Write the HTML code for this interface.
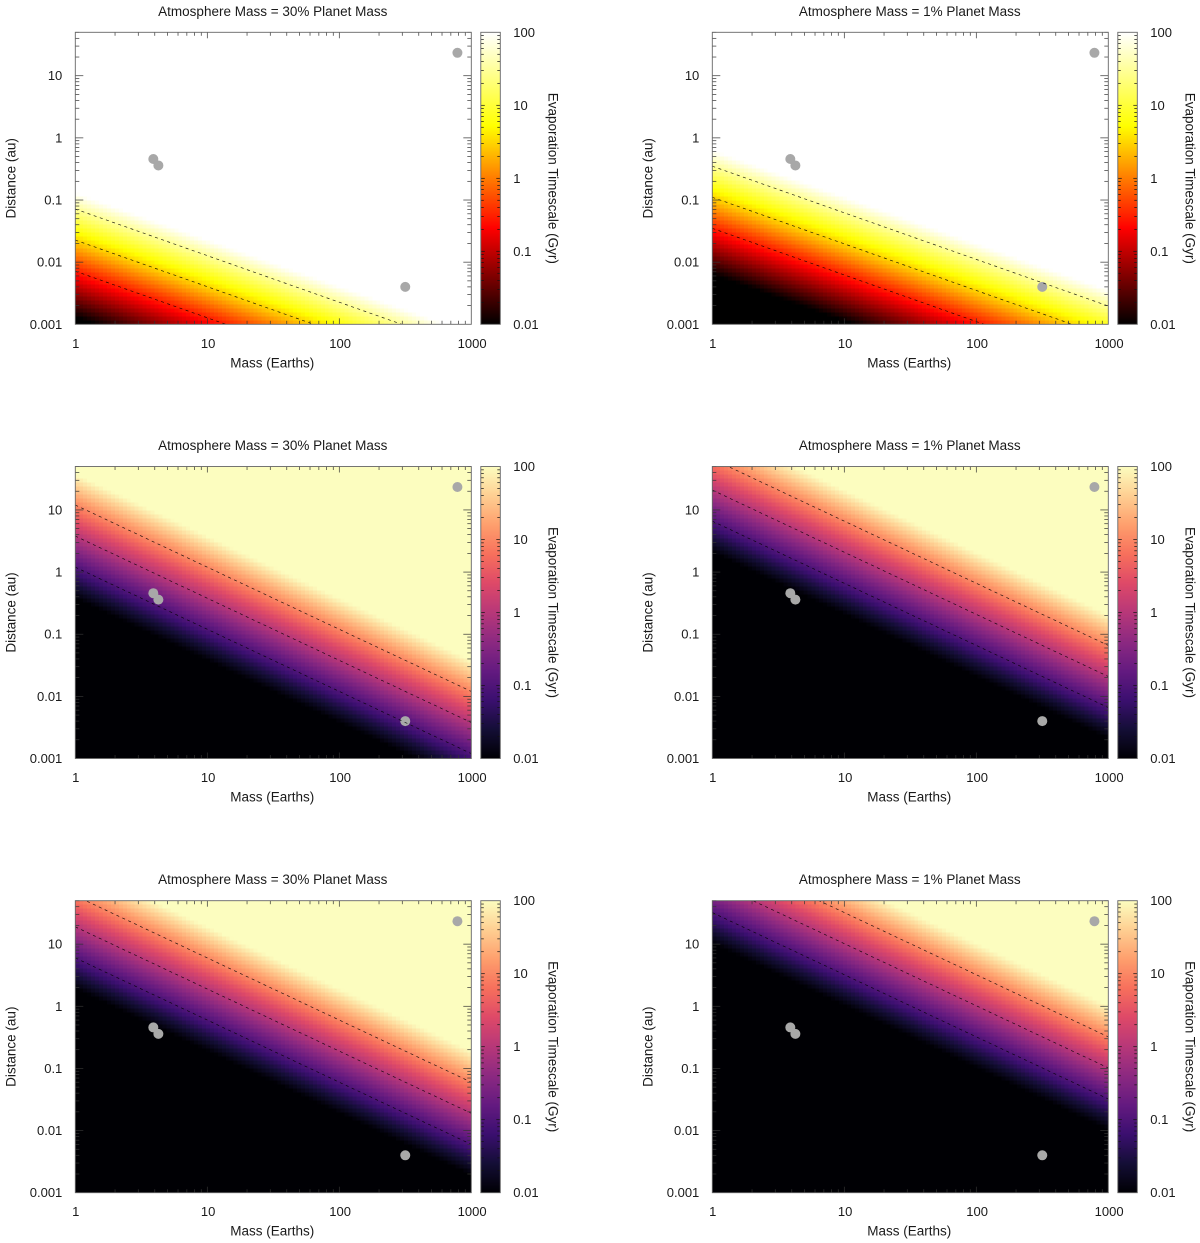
<!DOCTYPE html>
<html lang="en">
<head>
<meta charset="utf-8">
<title>Evaporation Timescale Maps</title>
<style>
html,body{margin:0;padding:0;background:#fff;}
svg{display:block;}
text{font-family:"Liberation Sans",sans-serif;font-size:13px;fill:#1a1a1a;}
text.axis-title{font-size:13.5px;}
</style>
</head>
<body>
<svg id="figure" xmlns="http://www.w3.org/2000/svg" width="1200" height="1243" viewBox="0 0 1200 1243"></svg>
<script>
// ---- chart data ----
const panelTitles = [
  "Atmosphere Mass = 30% Planet Mass", "Atmosphere Mass = 1% Planet Mass",
  "Atmosphere Mass = 30% Planet Mass", "Atmosphere Mass = 1% Planet Mass",
  "Atmosphere Mass = 30% Planet Mass", "Atmosphere Mass = 1% Planet Mass"
];
// distance (au) where each panel's longest-timescale contour crosses Mass = 1 Earth
const topContourDistanceAtOneEarth = [0.0716, 0.35, 12, 66, 60, 322];
// power-law exponents of the timescale against mass, for each panel
const massExponents = [1.5, 1.5, 2, 2, 2, 2];
const distanceExponent = 2;
const palettes = ["hot", "hot", "magma", "magma", "magma", "magma"];
const hotContourLevels = [30, 3, 0.3];
const magmaContourLevels = [10, 1, 0.1];
const planetMasses = [3.9, 4.26, 785, 316];
const planetDistances = [0.457, 0.36, 23.4, 0.004];
const massTicks = [1, 10, 100, 1000];
const massTickLabels = ["1", "10", "100", "1000"];
const distanceTicks = [0.001, 0.01, 0.1, 1, 10];
const distanceTickLabels = ["0.001", "0.01", "0.1", "1", "10"];
const colorTicks = [0.01, 0.1, 1, 10, 100];
const colorTickLabels = ["0.01", "0.1", "1", "10", "100"];
const massDomain = [1, 1000];
const distanceDomain = [0.001, 50];
const colorDomain = [0.01, 100];
const hotStops = [[0, 0, 0, 0], [0.33, 255, 0, 0], [0.68, 255, 255, 0], [1, 255, 255, 255]];
const magmaStops = [
  [0, 0, 0, 4], [0.1, 20, 14, 54], [0.2, 59, 15, 112], [0.3, 100, 26, 128],
  [0.4, 140, 41, 129], [0.5, 183, 55, 121], [0.6, 222, 73, 104], [0.7, 247, 112, 92],
  [0.8, 254, 159, 109], [0.9, 254, 207, 146], [1, 252, 253, 191]
];

// ---- layout ----
const svg = document.getElementById("figure");
const NS = "http://www.w3.org/2000/svg";
const plotW = 396, plotH = 292, barGap = 9.5, barW = 19.5;
const cellsX = 100, cellsY = 73;
const log10 = Math.log10;
function originX(i) { return 75.3 + 637 * (i % 2); }
function originY(i) { return 32.3 + 434.2 * Math.floor(i / 2); }
function scaleMass(i, m) { return originX(i) + plotW * (log10(m) - log10(massDomain[0])) / (log10(massDomain[1]) - log10(massDomain[0])); }
function scaleDistance(i, d) { return originY(i) + plotH - plotH * (log10(d) - log10(distanceDomain[0])) / (log10(distanceDomain[1]) - log10(distanceDomain[0])); }
function scaleColor(i, v) { return originY(i) + plotH - plotH * (log10(v) - log10(colorDomain[0])) / (log10(colorDomain[1]) - log10(colorDomain[0])); }
function colorFraction(t) {
  const f = (log10(t) - log10(colorDomain[0])) / (log10(colorDomain[1]) - log10(colorDomain[0]));
  return Math.max(0, Math.min(1, f));
}
function paletteColor(name, f) {
  const stops = name === "hot" ? hotStops : magmaStops;
  for (let k = 1; k < stops.length; k++) {
    if (f <= stops[k][0]) {
      const a = stops[k - 1], b = stops[k], u = (f - a[0]) / (b[0] - a[0]);
      return "rgb(" + [1, 2, 3].map(c => Math.round(a[c] + (b[c] - a[c]) * u)).join(",") + ")";
    }
  }
  return "rgb(" + stops[stops.length - 1].slice(1).join(",") + ")";
}
function levelsFor(i) { return palettes[i] === "hot" ? hotContourLevels : magmaContourLevels; }
function timescale(i, m, d) {
  return levelsFor(i)[0] * Math.pow(d / topContourDistanceAtOneEarth[i], distanceExponent) * Math.pow(m, massExponents[i]);
}
function contourDistance(i, level, m) {
  return topContourDistanceAtOneEarth[i] * Math.pow(level / levelsFor(i)[0] / Math.pow(m, massExponents[i]), 1 / distanceExponent);
}
function make(tag, attrs, parent, content) {
  const n = document.createElementNS(NS, tag);
  for (const key in attrs) n.setAttribute(key, attrs[key]);
  if (content !== undefined) n.textContent = content;
  parent.appendChild(n);
  return n;
}
function tickLine(parent, x1, y1, x2, y2, color) {
  const t = make("line", { x1: x1, y1: y1, x2: x2, y2: y2, stroke: color, "stroke-width": 0.7 }, parent);
  
  
}

const defs = make("defs", {}, svg);

panelTitles.forEach(function (title, i) {
  const x0 = originX(i), y0 = originY(i), x1 = x0 + plotW, y1 = y0 + plotH;
  const panel = make("g", {}, svg);
  
  

  const clip = make("clipPath", { id: "clip-" + i }, defs);
  make("rect", { x: x0, y: y0, width: plotW, height: plotH }, clip);

  // heatmap cells
  const heat = make("g", { "shape-rendering": "crispEdges" }, panel);
  
  
  const lm0 = log10(massDomain[0]), lm1 = log10(massDomain[1]);
  const ld0 = log10(distanceDomain[0]), ld1 = log10(distanceDomain[1]);
  for (let a = 0; a < cellsX; a++) {
    for (let b = 0; b < cellsY; b++) {
      const m = Math.pow(10, lm0 + (lm1 - lm0) * (a + 0.5) / cellsX);
      const d = Math.pow(10, ld0 + (ld1 - ld0) * (b + 0.5) / cellsY);
      const mLo = Math.pow(10, lm0 + (lm1 - lm0) * a / cellsX);
      const mHi = Math.pow(10, lm0 + (lm1 - lm0) * (a + 1) / cellsX);
      const dLo = Math.pow(10, ld0 + (ld1 - ld0) * b / cellsY);
      const dHi = Math.pow(10, ld0 + (ld1 - ld0) * (b + 1) / cellsY);
      const cell = make("rect", {
        x: scaleMass(i, mLo), y: scaleDistance(i, dHi),
        width: scaleMass(i, mHi) - scaleMass(i, mLo),
        height: scaleDistance(i, dLo) - scaleDistance(i, dHi),
        fill: paletteColor(palettes[i], colorFraction(timescale(i, m, d)))
      }, heat);
      
      
    }
  }

  // planets
  planetMasses.forEach(function (m, k) {
    const p = make("circle", { cx: scaleMass(i, m), cy: scaleDistance(i, planetDistances[k]), r: 5, fill: "#a8a8a8" }, panel);
    
    
  });

  // contours
  levelsFor(i).forEach(function (level) {
    const c = make("line", {
      x1: scaleMass(i, massDomain[0]), y1: scaleDistance(i, contourDistance(i, level, massDomain[0])),
      x2: scaleMass(i, massDomain[1]), y2: scaleDistance(i, contourDistance(i, level, massDomain[1])),
      stroke: "#000", "stroke-width": 0.7, "stroke-opacity": 0.85, "stroke-dasharray": "3 3.5", "clip-path": "url(#clip-" + i + ")"
    }, panel);
    
    
  });

  // ticks on plot
  const ticks = make("g", {}, panel);
  
  
  for (let e = 0; e < 3; e++) {
    for (let k = 1; k < 10; k++) {
      const x = scaleMass(i, Math.pow(10, e) * k);
      const len = k === 1 ? 6 : 3.5;
      if (k === 1 && e === 0) continue;
      tickLine(ticks, x, y0, x, y0 + len, "#333");
      tickLine(ticks, x, y1, x, y1 - len, "#333");
    }
  }
  for (let e = -3; e < 2; e++) {
    for (let k = 1; k < 10; k++) {
      const v = Math.pow(10, e) * k;
      if (v > distanceDomain[1] || (e === -3 && k === 1)) continue;
      const y = scaleDistance(i, v);
      const len = k === 1 ? 8 : 4;
      tickLine(ticks, x0, y, x0 + len, y, "#333");
      tickLine(ticks, x1, y, x1 - len, y, "#333");
    }
  }

  // frame
  const frame = make("rect", { x: x0, y: y0, width: plotW, height: plotH, fill: "none", stroke: "#666", "stroke-width": 0.9 }, panel);
  
  

  // axis labels
  massTicks.forEach(function (m, k) {
    const t = make("text", { x: scaleMass(i, m) + (k === 0 ? 0.5 : 0.8), y: y1 + 23.5, "text-anchor": "middle" }, panel, massTickLabels[k]);
    
    
  });
  distanceTicks.forEach(function (d, k) {
    const t = make("text", { x: x0 - 13, y: scaleDistance(i, d) + 4.5, "text-anchor": "end" }, panel, distanceTickLabels[k]);
    
    
  });
  const titleText = make("text", { class: "axis-title", x: x0 + 197.5, y: y0 - 16.5, "text-anchor": "middle" }, panel, title);
  
  
  const xTitle = make("text", { class: "axis-title", x: x0 + 197, y: y1 + 43, "text-anchor": "middle" }, panel, "Mass (Earths)");
  
  
  const yTitle = make("text", { class: "axis-title", transform: "translate(" + (x0 - 60) + "," + (y0 + 146) + ") rotate(-90)", "text-anchor": "middle" }, panel, "Distance (au)");
  
  

  // colorbar
  const bx0 = x1 + barGap, bx1 = bx0 + barW;
  const bar = make("g", {}, panel);
  
  
  const barSteps = 146;
  const grad = make("g", { "shape-rendering": "crispEdges" }, bar);
  for (let s = 0; s < barSteps; s++) {
    const lo = Math.pow(10, log10(colorDomain[0]) + (log10(colorDomain[1]) - log10(colorDomain[0])) * s / barSteps);
    const hi = Math.pow(10, log10(colorDomain[0]) + (log10(colorDomain[1]) - log10(colorDomain[0])) * (s + 1) / barSteps);
    const mid = Math.sqrt(lo * hi);
    const seg = make("rect", { x: bx0, y: scaleColor(i, hi), width: barW, height: scaleColor(i, lo) - scaleColor(i, hi), fill: paletteColor(palettes[i], colorFraction(mid)) }, grad);
    
    
  }
  for (let e = -2; e < 2; e++) {
    for (let k = 1; k < 10; k++) {
      if (k === 1 && e === -2) continue;
      const y = scaleColor(i, Math.pow(10, e) * k);
      const len = k === 1 ? 4 : 3;
      tickLine(bar, bx0, y, bx0 + len, y, "#111");
      tickLine(bar, bx1, y, bx1 - len, y, "#111");
    }
  }
  const barFrame = make("rect", { x: bx0, y: y0, width: barW, height: plotH, fill: "none", stroke: "#666", "stroke-width": 0.9 }, bar);
  
  
  colorTicks.forEach(function (v, k) {
    const t = make("text", { x: bx1 + 13, y: scaleColor(i, v) + 4.5 }, bar, colorTickLabels[k]);
    
    
  });
  const barTitle = make("text", { class: "axis-title", transform: "translate(" + (bx1 + 48) + "," + (y0 + 146) + ") rotate(90)", "text-anchor": "middle" }, bar, "Evaporation Timescale (Gyr)");
  
  
});
</script>
</body>
</html>
